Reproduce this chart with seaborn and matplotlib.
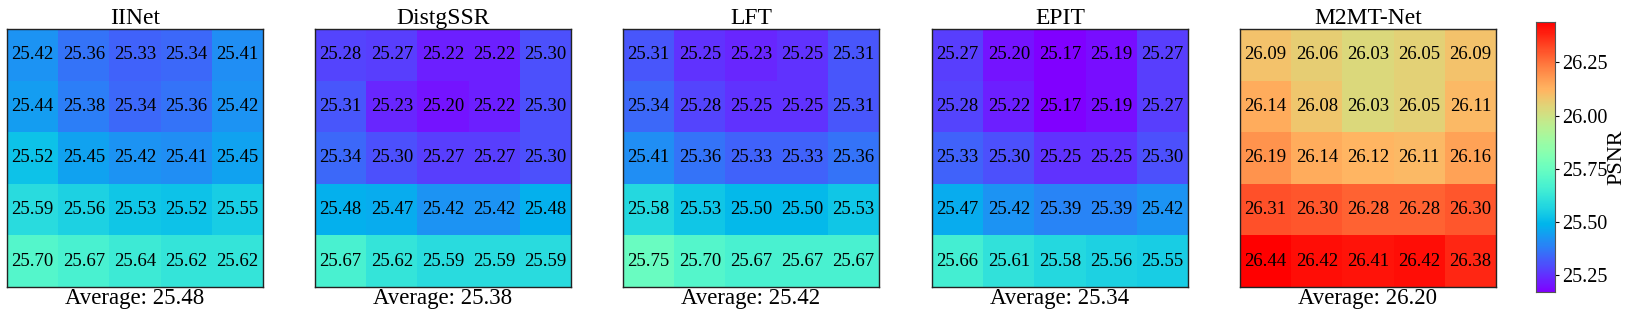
import numpy as np
import matplotlib
matplotlib.use('Agg')
import matplotlib.pyplot as plt
import seaborn as sns

# PSNR maps (5x5 angular views) for each method
models = ['IINet', 'DistgSSR', 'LFT', 'EPIT', 'M2MT-Net']
averages = ['25.48', '25.38', '25.42', '25.34', '26.20']

iinet = [[25.42, 25.36, 25.33, 25.34, 25.41],
         [25.44, 25.38, 25.34, 25.36, 25.42],
         [25.52, 25.45, 25.42, 25.41, 25.45],
         [25.59, 25.56, 25.53, 25.52, 25.55],
         [25.70, 25.67, 25.64, 25.62, 25.62]]
distgssr = [[25.28, 25.27, 25.22, 25.22, 25.30],
            [25.31, 25.23, 25.20, 25.22, 25.30],
            [25.34, 25.30, 25.27, 25.27, 25.30],
            [25.48, 25.47, 25.42, 25.42, 25.48],
            [25.67, 25.62, 25.59, 25.59, 25.59]]
lft = [[25.31, 25.25, 25.23, 25.25, 25.31],
       [25.34, 25.28, 25.25, 25.25, 25.31],
       [25.41, 25.36, 25.33, 25.33, 25.36],
       [25.58, 25.53, 25.50, 25.50, 25.53],
       [25.75, 25.70, 25.67, 25.67, 25.67]]
epit = [[25.27, 25.20, 25.17, 25.19, 25.27],
        [25.28, 25.22, 25.17, 25.19, 25.27],
        [25.33, 25.30, 25.25, 25.25, 25.30],
        [25.47, 25.42, 25.39, 25.39, 25.42],
        [25.66, 25.61, 25.58, 25.56, 25.55]]
m2mt = [[26.09, 26.06, 26.03, 26.05, 26.09],
        [26.14, 26.08, 26.03, 26.05, 26.11],
        [26.19, 26.14, 26.12, 26.11, 26.16],
        [26.31, 26.30, 26.28, 26.28, 26.30],
        [26.44, 26.42, 26.41, 26.42, 26.38]]

maps = [np.array(m) for m in [iinet, distgssr, lft, epit, m2mt]]
vmin = min(m.min() for m in maps)
vmax = max(m.max() for m in maps)

plt.rcParams['font.family'] = ['Liberation Serif', 'DejaVu Serif']

W, H = 1628, 321
fig = plt.figure(figsize=(W / 100, H / 100), dpi=100)

lefts = [7, 315, 623, 932, 1240]
pw, top, bot = 256, 29, 287
cax = fig.add_axes([1536 / W, 1 - 292 / H, 19 / W, 270 / H])

for i, (name, data, avg) in enumerate(zip(models, maps, averages)):
    ax = fig.add_axes([lefts[i] / W, 1 - bot / H, pw / W, (bot - top) / H])
    last = i == len(models) - 1
    sns.heatmap(data, ax=ax, cmap='rainbow', vmin=vmin, vmax=vmax,
                annot=True, fmt='.2f', annot_kws={'size': 13.5, 'color': 'black'},
                cbar=last, cbar_ax=cax if last else None,
                xticklabels=False, yticklabels=False)
    for s in ax.spines.values():
        s.set_visible(True)
        s.set_color('#222222')
        s.set_linewidth(1)
    ax.set_title(name, fontsize=17, pad=3.5)
    ax.set_xlabel('Average: ' + avg, fontsize=16.5, labelpad=1)
    ax.tick_params(length=0)

cax.set_ylabel('PSNR', fontsize=16, labelpad=0)
cax.tick_params(labelsize=14.5, length=3, pad=2)
cax.set_yticks([25.25, 25.50, 25.75, 26.00, 26.25])
cax.set_yticklabels(['25.25', '25.50', '25.75', '26.00', '26.25'])
for s in cax.spines.values():
    s.set_visible(True)
    s.set_color('#555555')

fig.savefig('out.png', dpi=100)
